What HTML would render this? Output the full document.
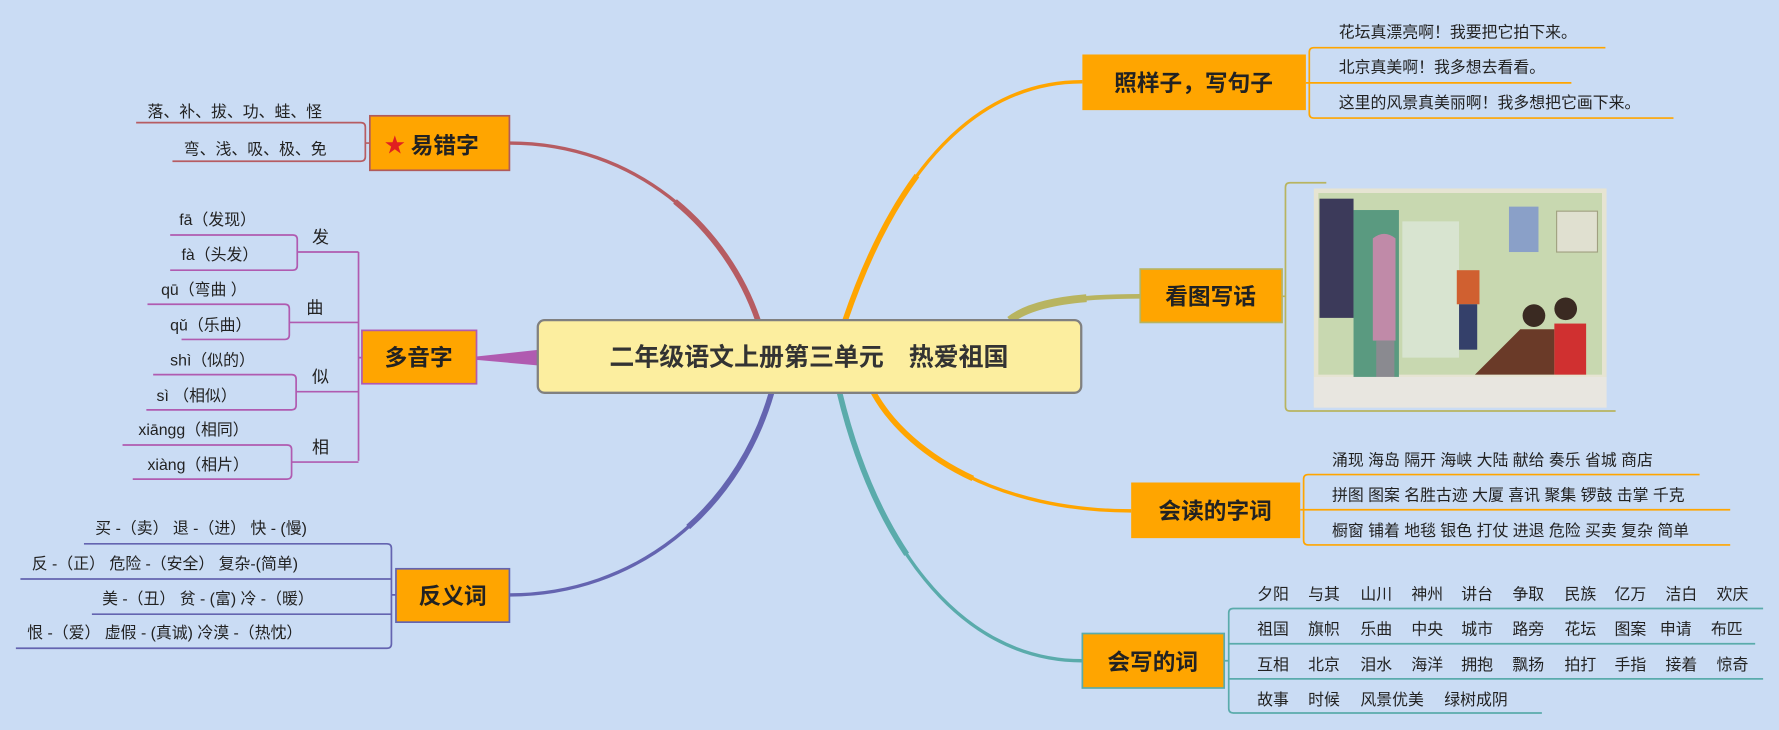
<!DOCTYPE html>
<html><head><meta charset="utf-8"><style>
html,body{margin:0;padding:0;background:#cadcf4;}
svg{display:block}
text{font-family:"Liberation Sans","Noto Sans CJK SC",sans-serif;fill:#222}
.t{font-size:14px}
.b{font-size:20px;font-weight:bold;fill:#222}
</style></head><body>
<svg width="1779" height="730" viewBox="0 0 1568 643" preserveAspectRatio="none" xmlns="http://www.w3.org/2000/svg">
<rect width="1568" height="643" fill="#cadcf4"/>
<!-- main curves -->
<g fill="none">
<path d="M449,126 C560,126 640,200 668,282" stroke="#b65c62" stroke-width="3"/>
<path d="M449,126 C560,126 640,200 668,282" pathLength="100" stroke-dasharray="0 55 45" stroke="#b65c62" stroke-width="5"/>
<path d="M449,524 C560,524 650,450 680,346" stroke="#6464b0" stroke-width="3"/>
<path d="M449,524 C560,524 650,450 680,346" pathLength="100" stroke-dasharray="0 55 45" stroke="#6464b0" stroke-width="5"/>
<path d="M954,72 C860,72 790,150 745,282" stroke="#ffa500" stroke-width="3"/>
<path d="M954,72 C860,72 790,150 745,282" pathLength="100" stroke-dasharray="0 55 45" stroke="#ffa500" stroke-width="5"/>
<path d="M1005,261 C950,261 910,266 890,282" stroke="#b8b460" stroke-width="4"/>
<path d="M1005,261 C950,261 910,266 890,282" pathLength="100" stroke-dasharray="0 40 60" stroke="#b8b460" stroke-width="7"/>
<path d="M997,450 C880,450 800,400 770,346" stroke="#ffa500" stroke-width="3"/>
<path d="M997,450 C880,450 800,400 770,346" pathLength="100" stroke-dasharray="0 55 45" stroke="#ffa500" stroke-width="5"/>
<path d="M954,582 C840,582 770,470 740,346" stroke="#5aabab" stroke-width="3"/>
<path d="M954,582 C840,582 770,470 740,346" pathLength="100" stroke-dasharray="0 55 45" stroke="#5aabab" stroke-width="5"/>
</g>
<polygon points="420,314 476,308 476,322 420,317" fill="#b05bb0"/>

<!-- central -->
<rect x="474" y="282" width="479" height="64" rx="6" fill="#fcee9f" stroke="#808080" stroke-width="2"/>
<text x="713" y="322" text-anchor="middle" style="font-size:22px;font-weight:bold;fill:#333">二年级语文上册第三单元　热爱祖国</text>

<!-- 易错字 -->
<rect x="326" y="102" width="123" height="48" fill="#ffa500" stroke="#b05b5b" stroke-width="1.5"/>
<text x="339" y="134" style="font-size:18px;fill:#e02020">★</text>
<text x="362" y="135" class="b">易错字</text>
<path d="M120,108 H318 Q322,108 322,112 V138 Q322,142 318,142 H152 M322,126 H326" stroke="#b65c62" stroke-width="1.5" fill="none"/>
<text x="130" y="103" class="t">落、补、拔、功、蛙、怪</text>
<text x="162" y="136" class="t">弯、浅、吸、极、免</text>

<!-- 多音字 -->
<rect x="319" y="291" width="101" height="47" fill="#ffa500" stroke="#b05bb0" stroke-width="1.5"/>
<text x="369" y="322" class="b" text-anchor="middle">多音字</text>
<g stroke="#b05bb0" stroke-width="1.5" fill="none">
<path d="M316,222 V406 M316,315 H319"/>
<path d="M262,222 H316 M150,207 H258 Q262,207 262,211 V234 Q262,238 258,238 H150"/>
<path d="M255,284 H316 M130,268 H251 Q255,268 255,272 V295 Q255,299 251,299 H160"/>
<path d="M261,345 H316 M135,330 H257 Q261,330 261,334 V357 Q261,361 257,361 H129"/>
<path d="M257,407 H316 M108,392 H253 Q257,392 257,396 V418 Q257,422 253,422 H117"/>
</g>
<text x="158" y="198" class="t">fā（发现）</text>
<text x="160" y="229" class="t">fà（头发）</text>
<text x="142" y="260" class="t">qū（弯曲 ）</text>
<text x="150" y="291" class="t">qǔ（乐曲）</text>
<text x="150" y="322" class="t">shì（似的）</text>
<text x="138" y="353" class="t">sì （相似）</text>
<text x="122" y="383" class="t">xiāngg（相同）</text>
<text x="130" y="414" class="t">xiàng（相片）</text>
<text x="275" y="214" style="font-size:15px">发</text>
<text x="270" y="276" style="font-size:15px">曲</text>
<text x="275" y="337" style="font-size:15px">似</text>
<text x="275" y="399" style="font-size:15px">相</text>

<!-- 反义词 -->
<rect x="349" y="501" width="100" height="47" fill="#ffa500" stroke="#6464b0" stroke-width="1.5"/>
<text x="399" y="532" class="b" text-anchor="middle">反义词</text>
<g stroke="#6464b0" stroke-width="1.5" fill="none">
<path d="M74,479 H341 Q345,479 345,483 V567 Q345,571 341,571 H14 M18,510 H345 M81,541 H345 M345,524 H349"/>
</g>
<text x="84" y="470" class="t">买 -（卖）  退 -（进）  快 - (慢)</text>
<text x="28" y="501" class="t">反 -（正）  危险 -（安全）  复杂-(简单)</text>
<text x="90" y="532" class="t">美 -（丑） 贫 - (富)  冷 -（暖）</text>
<text x="24" y="562" class="t">恨 -（爱）  虚假 - (真诚)  冷漠 -（热忱）</text>

<!-- 照样子 -->
<rect x="954" y="48" width="197" height="49" fill="#ffa500"/>
<text x="1052" y="80" class="b" text-anchor="middle">照样子，写句子</text>
<path d="M1415,42 H1158 Q1154,42 1154,46 V100 Q1154,104 1158,104 H1475 M1151,73 H1385" stroke="#ffa500" stroke-width="1.5" fill="none"/>
<text x="1180" y="33" class="t">花坛真漂亮啊！我要把它拍下来。</text>
<text x="1180" y="64" class="t">北京真美啊！我多想去看看。</text>
<text x="1180" y="95" class="t">这里的风景真美丽啊！我多想把它画下来。</text>

<!-- 看图写话 -->
<rect x="1005" y="237" width="125" height="47" fill="#ffa500" stroke="#b8b460" stroke-width="1.5"/>
<text x="1067" y="268" class="b" text-anchor="middle">看图写话</text>
<path d="M1169,161 H1137 Q1133,161 1133,165 V358 Q1133,362 1137,362 H1424 M1130,261 H1133" stroke="#b8b460" stroke-width="1.5" fill="none"/>
<g>
<rect x="1158" y="166" width="258" height="193" fill="#e6e4d2"/>
<rect x="1162" y="170" width="250" height="160" fill="#c8d8b0"/>
<rect x="1163" y="175" width="30" height="105" fill="#3c3a5a"/>
<rect x="1193" y="185" width="40" height="150" fill="#5a9a80"/>
<rect x="1236" y="195" width="50" height="120" fill="#d8e4d0"/>
<rect x="1330" y="182" width="26" height="40" fill="#8aa0c8"/>
<rect x="1372" y="186" width="36" height="36" fill="#e0e0d0" stroke="#a0a080"/>
<path d="M1210,210 q10,-8 20,0 v90 h-20 z" fill="#c08aa8"/>
<rect x="1213" y="300" width="16" height="42" fill="#8a8a90"/>
<rect x="1284" y="238" width="20" height="30" fill="#d06030"/>
<rect x="1286" y="268" width="16" height="40" fill="#34406a"/>
<path d="M1300,330 L1340,290 L1370,290 L1370,330 Z" fill="#6a3a28"/>
<circle cx="1352" cy="278" r="10" fill="#3a2a22"/>
<circle cx="1380" cy="272" r="10" fill="#3a2a22"/>
<rect x="1370" y="285" width="28" height="45" fill="#d03030"/>
<rect x="1158" y="332" width="258" height="27" fill="#e8e6e0"/>
</g>

<!-- 会读的字词 -->
<rect x="997" y="425" width="149" height="49" fill="#ffa500"/>
<text x="1071" y="457" class="b" text-anchor="middle">会读的字词</text>
<path d="M1498,418 H1153 Q1149,418 1149,422 V476 Q1149,480 1153,480 H1525 M1146,449 H1525" stroke="#ffa500" stroke-width="1.5" fill="none"/>
<text x="1174" y="410" class="t">涌现 海岛 隔开 海峡 大陆  献给 奏乐 省城  商店</text>
<text x="1174" y="441" class="t">拼图 图案 名胜古迹 大厦 喜讯 聚集 锣鼓 击掌 千克</text>
<text x="1174" y="472" class="t">橱窗 铺着 地毯 银色 打仗 进退 危险 买卖 复杂 简单</text>

<!-- 会写的词 -->
<rect x="954" y="558" width="125" height="48" fill="#ffa500" stroke="#5aabab" stroke-width="1.5"/>
<text x="1016" y="590" class="b" text-anchor="middle">会写的词</text>
<path d="M1554,536 H1087 Q1083,536 1083,540 V624 Q1083,628 1087,628 H1359 M1079,582 H1083 M1083,567 H1547 M1083,598 H1554" stroke="#5aabab" stroke-width="1.5" fill="none"/>
<text y="528" class="t"><tspan x="1108">夕阳</tspan><tspan x="1153">与其</tspan><tspan x="1199">山川</tspan><tspan x="1244">神州</tspan><tspan x="1288">讲台</tspan><tspan x="1333">争取</tspan><tspan x="1379">民族</tspan><tspan x="1423">亿万</tspan><tspan x="1468">洁白</tspan><tspan x="1513">欢庆</tspan></text>
<text y="559" class="t"><tspan x="1108">祖国</tspan><tspan x="1153">旗帜</tspan><tspan x="1199">乐曲</tspan><tspan x="1244">中央</tspan><tspan x="1288">城市</tspan><tspan x="1333">路旁</tspan><tspan x="1379">花坛</tspan><tspan x="1423">图案</tspan><tspan x="1463">申请</tspan><tspan x="1508">布匹</tspan></text>
<text y="590" class="t"><tspan x="1108">互相</tspan><tspan x="1153">北京</tspan><tspan x="1199">泪水</tspan><tspan x="1244">海洋</tspan><tspan x="1288">拥抱</tspan><tspan x="1333">飘扬</tspan><tspan x="1379">拍打</tspan><tspan x="1423">手指</tspan><tspan x="1468">接着</tspan><tspan x="1513">惊奇</tspan></text>
<text y="621" class="t"><tspan x="1108">故事</tspan><tspan x="1153">时候</tspan><tspan x="1199">风景优美</tspan><tspan x="1273">绿树成阴</tspan></text>
</svg>
</body></html>
